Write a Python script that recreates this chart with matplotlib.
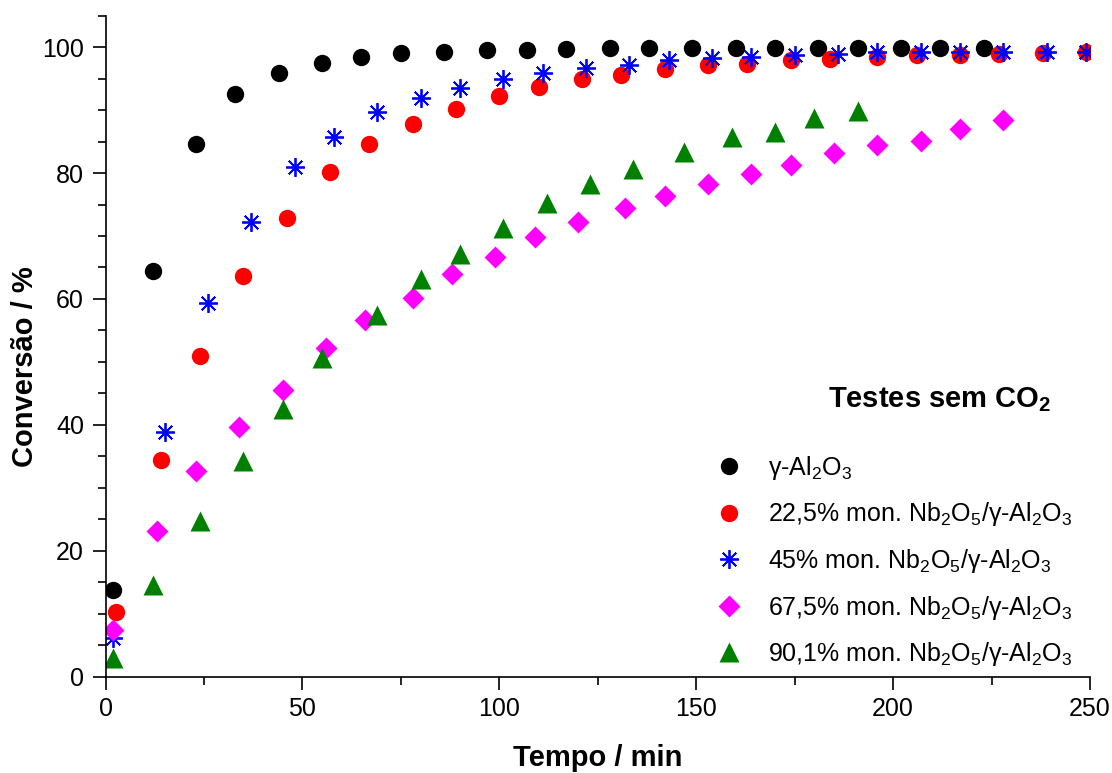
import matplotlib
matplotlib.use("Agg")
import matplotlib.pyplot as plt
from matplotlib.ticker import MultipleLocator

plt.rcParams['font.family'] = ['Liberation Sans', 'DejaVu Sans']
plt.rcParams['mathtext.fontset'] = 'custom'
plt.rcParams['mathtext.rm'] = 'Liberation Sans'
plt.rcParams['mathtext.default'] = 'regular'

# gamma-Al2O3
t_al = [2, 12, 23, 33, 44, 55, 65, 75, 86, 97, 107, 117, 128, 138, 149, 160, 170, 181, 191, 202, 212, 223]
c_al = [13.8, 64.4, 84.6, 92.5, 95.9, 97.5, 98.5, 99.0, 99.3, 99.5, 99.6, 99.7, 99.8, 99.8, 99.8,
        99.8, 99.9, 99.9, 99.9, 99.9, 99.9, 99.9]

# 22,5% mon. Nb2O5/gamma-Al2O3
t_22 = [2.7, 14, 24, 35, 46, 57, 67, 78, 89, 100, 110, 121, 131, 142, 153, 163, 174, 184, 196, 206,
        217, 227, 238, 249]
c_22 = [10.3, 34.5, 50.9, 63.6, 72.8, 80.2, 84.6, 87.8, 90.1, 92.2, 93.6, 95.0, 95.6, 96.5, 97.2,
        97.4, 98.0, 98.1, 98.5, 98.7, 98.7, 98.9, 99.1, 99.2]

# 45% mon. Nb2O5/gamma-Al2O3
t_45 = [1.8, 15, 26, 37, 48, 58, 69, 80, 90, 101, 111, 122, 133, 143, 154, 164, 175, 186, 196, 207,
        217, 228, 239, 249]
c_45 = [6.1, 38.9, 59.4, 72.2, 80.9, 85.7, 89.7, 91.9, 93.5, 95.0, 95.9, 96.7, 97.1, 97.9, 98.3,
        98.4, 98.7, 98.9, 99.2, 99.2, 99.2, 99.3, 99.3, 99.3]

# 67,5% mon. Nb2O5/gamma-Al2O3
t_67 = [1.8, 13, 23, 34, 45, 56, 66, 78, 88, 99, 109, 120, 132, 142, 153, 164, 174, 185, 196, 207,
        217, 228]
c_67 = [7.4, 23.1, 32.6, 39.6, 45.5, 52.2, 56.7, 60.1, 63.9, 66.7, 69.8, 72.3, 74.5, 76.3, 78.3,
        79.9, 81.3, 83.2, 84.5, 85.1, 87.0, 88.5]

# 90,1% mon. Nb2O5/gamma-Al2O3
t_90 = [1.8, 12, 24, 35, 45, 55, 69, 80, 90, 101, 112, 123, 134, 147, 159, 170, 180, 191]
c_90 = [3.0, 14.5, 24.7, 34.3, 42.5, 50.6, 57.4, 63.1, 67.1, 71.3, 75.2, 78.2, 80.6, 83.4, 85.7,
        86.6, 88.8, 89.9]

labels = [r'γ-Al$_2$O$_3$',
          r'22,5% mon. Nb$_2$O$_5$/γ-Al$_2$O$_3$',
          r'45% mon. Nb$_2$O$_5$/γ-Al$_2$O$_3$',
          r'67,5% mon. Nb$_2$O$_5$/γ-Al$_2$O$_3$',
          r'90,1% mon. Nb$_2$O$_5$/γ-Al$_2$O$_3$']

fig = plt.figure(figsize=(11.12, 7.73), dpi=100)
ax = fig.add_axes([0.0949, 0.1246, 0.8853, 0.8551])

h1, = ax.plot(t_al, c_al, 'o', color='black', ms=12.5, mec='none')
h2, = ax.plot(t_22, c_22, 'o', color='red', ms=12.5, mec='none')
h3, = ax.plot(t_45, c_45, ls='none', marker=(8, 2, 0), color='blue', ms=13.5, mew=1.3)
h4, = ax.plot(t_67, c_67, 'D', color='magenta', ms=11, mec='none')
h5, = ax.plot(t_90, c_90, '^', color='green', ms=14, mec='none')

ax.set_xlim(0, 250)
ax.set_ylim(0, 105)
ax.set_yticks([0, 20, 40, 60, 80, 100])
ax.xaxis.set_major_locator(MultipleLocator(50))
ax.xaxis.set_minor_locator(MultipleLocator(25))
ax.yaxis.set_minor_locator(MultipleLocator(5))

for s in ['top', 'right']:
    ax.spines[s].set_visible(False)
for s in ['left', 'bottom']:
    ax.spines[s].set_linewidth(1.2)

ax.tick_params(which='major', direction='out', length=9.5, width=1.2, labelsize=18, pad=6)
ax.tick_params(which='minor', direction='out', length=5.5, width=1.2)
ax.tick_params(axis='x', which='major', pad=5)

ax.set_xlabel('Tempo / min', fontsize=21, fontweight='bold', labelpad=17)
ax.set_ylabel('Conversão / %', fontsize=21, fontweight='bold')
ax.yaxis.set_label_coords(-0.068, 0.469)

fig.text(828 / 1112, 1 - 407 / 773, r'Testes sem CO$_2$', fontsize=21, fontweight='bold',
         va='baseline', ha='left')

leg = ax.legend([h1, h2, h3, h4, h5], labels, loc='upper left',
                bbox_to_anchor=(716 / 1112, 1 - 454 / 773), bbox_transform=fig.transFigure,
                frameon=False, fontsize=18, numpoints=1, handlelength=1.0,
                handletextpad=1.1, labelspacing=0.74, borderpad=0, borderaxespad=0)

fig.savefig('out.png', dpi=100)
